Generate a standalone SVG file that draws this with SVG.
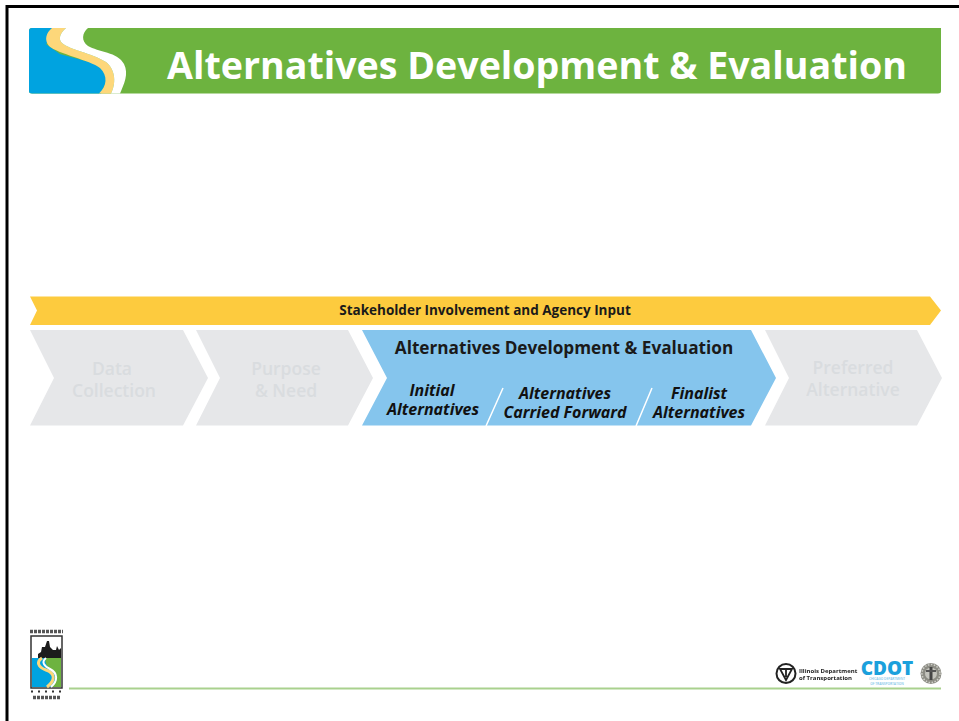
<svg xmlns="http://www.w3.org/2000/svg" width="959" height="721" viewBox="0 0 959 721">
<style>
text{font-family:"Open Sans","Noto Sans","Liberation Sans",sans-serif;text-anchor:middle}
.b{font-weight:700;fill:#1a1a1a}
.g{font-weight:600;fill:#d9dcdf;font-size:17.500px}
.i{font-weight:700;font-style:italic;fill:#111;font-size:16px}
.chev{fill:#e6e7e9}
.s{text-anchor:start;font-weight:700;fill:#222;font-size:6px}
.c{font-weight:600;fill:#7cc4e8;font-size:3.200px}
</style>
<defs><filter id="soft" x="-10%" y="-10%" width="120%" height="120%"><feGaussianBlur stdDeviation="0.45"/></filter></defs>
<rect width="959" height="721" fill="#fff"/>
<path d="M7 721V6.500H959" fill="none" stroke="#000" stroke-width="3"/>
<g id="header">
<path d="M29 31Q29 28 32 28H941V91Q941 93.500 938 93.500H32Q29 93.500 29 91Z" fill="#6db33f"/>
<path d="M29 31Q29 28 32 28H62L46 44L60 54L100 65L108 78L101 93.500H32Q29 93.500 29 91Z" fill="#00a3e0"/>
<path d="M52 28H66C60 33 58 39 62 43C70 50 92 53 106 62C116 70 116 84 111 93.500H99C107 86 108 76 100 68C90 60 58 54 49 46C44 40 46 33 52 28Z" fill="#fdd77a"/>
<path d="M66 28H88C82 33 81 41 88 46C98 52 118 52 124 64C129 74 124 84 120 93.500H111C116 84 116 70 106 62C92 53 70 50 62 43C58 39 60 33 66 28Z" fill="#fff"/>
<text x="537" y="78.500" font-size="37.600" font-weight="700" fill="#fff">Alternatives Development &amp; Evaluation</text>
</g>
<g id="stakeholder-bar">
<path d="M30 296.500H930L941 310.500L930 325H30L37 310.500Z" fill="#fdcb3e"/>
<text class="b" x="485" y="315" font-size="13.500">Stakeholder Involvement and Agency Input</text>
</g>
<g id="data-collection">
<path class="chev" d="M30 330H183L208 378L183 425.500H30L54 378Z"/>
<text class="g" x="112" y="375">Data</text>
<text class="g" x="114" y="397">Collection</text>
</g>
<g id="purpose-need">
<path class="chev" d="M196 330H348L373 378L348 425.500H196L220 378Z"/>
<text class="g" x="286" y="375">Purpose</text>
<text class="g" x="286" y="397">&amp; Need</text>
</g>
<g id="alternatives">
<path d="M362 330H751L776 378L751 425.500H362L387 378Z" fill="#85c5ed"/>
<path d="M486 426L503 388M636 426L652 388" stroke="#fff" stroke-width="1.500" fill="none"/>
<text class="b" x="564" y="353.500" font-size="17.200">Alternatives Development &amp; Evaluation</text>
<text class="i" x="432" y="396">Initial</text>
<text class="i" x="433" y="415">Alternatives</text>
<text class="i" x="565" y="399">Alternatives</text>
<text class="i" x="565" y="418">Carried Forward</text>
<text class="i" x="699" y="399">Finalist</text>
<text class="i" x="699" y="418">Alternatives</text>
</g>
<g id="preferred-alternative">
<path class="chev" d="M765 330H917L942 378L917 425.500H765L789 378Z"/>
<text class="g" x="853" y="374">Preferred</text>
<text class="g" x="853" y="396">Alternative</text>
</g>
<g id="footer">
<path d="M69 688.500H941" stroke="#a9d18e" stroke-width="2"/>
<g id="project-logo" filter="url(#soft)">
<rect x="31" y="636" width="31" height="52" fill="#fff" stroke="#333" stroke-width="1.500"/>
<path d="M38 658V654L41 652L42 647L45 647L47 641L49 641L50 647L53 650L56 650L57 646L59 650L61 648V658Z" fill="#1c1c1c"/>
<rect x="32" y="658" width="29" height="29" fill="#00a3e0"/>
<path d="M46 658H61V687H52C59 680 58 674 52 670C47 667 44 662 46 658Z" fill="#6db33f"/>
<path d="M42 658C36 662 38 667 46 670C55 673 56 680 47 687" fill="none" stroke="#fdd77a" stroke-width="3"/>
<path d="M46 658C41 662 44 666 50 669C58 673 58 681 51 687" fill="none" stroke="#fff" stroke-width="2"/>
<path d="M30 631.500H63M33 697.500H61" stroke="#555" stroke-width="3.500" stroke-dasharray="3 1"/>
<path d="M31 691.500H62" stroke="#333" stroke-width="2" stroke-dasharray="2 5"/>
</g>
<g id="idot-logo" filter="url(#soft)">
<circle cx="786" cy="673.500" r="9.500" fill="#fff" stroke="#222" stroke-width="2"/>
<path d="M780 669H792L786 680ZM786 669V677" fill="none" stroke="#222" stroke-width="1.800"/>
<text class="s" x="799" y="673">Illinois Department</text>
<text class="s" x="799" y="680">of Transportation</text>
</g>
<g id="cdot-logo">
<text x="887" y="675" font-size="19" font-weight="800" fill="#1ba0dc">CDOT</text>
<text class="c" x="887" y="680">CHICAGO DEPARTMENT</text>
<text class="c" x="887" y="684.500">OF TRANSPORTATION</text>
</g>
<g id="city-seal" filter="url(#soft)">
<circle cx="931" cy="673.500" r="10.500" fill="#8c8c84"/>
<circle cx="931" cy="673.500" r="9" fill="none" stroke="#d0d0ca" stroke-width="1.500" stroke-dasharray="1.500 1.500"/>
<circle cx="931" cy="673.500" r="6" fill="#c4c4bd"/>
<rect x="929.500" y="667" width="3" height="13" fill="#444"/>
<rect x="926" y="670" width="10" height="2" fill="#555"/>
</g>
</g>
</svg>
